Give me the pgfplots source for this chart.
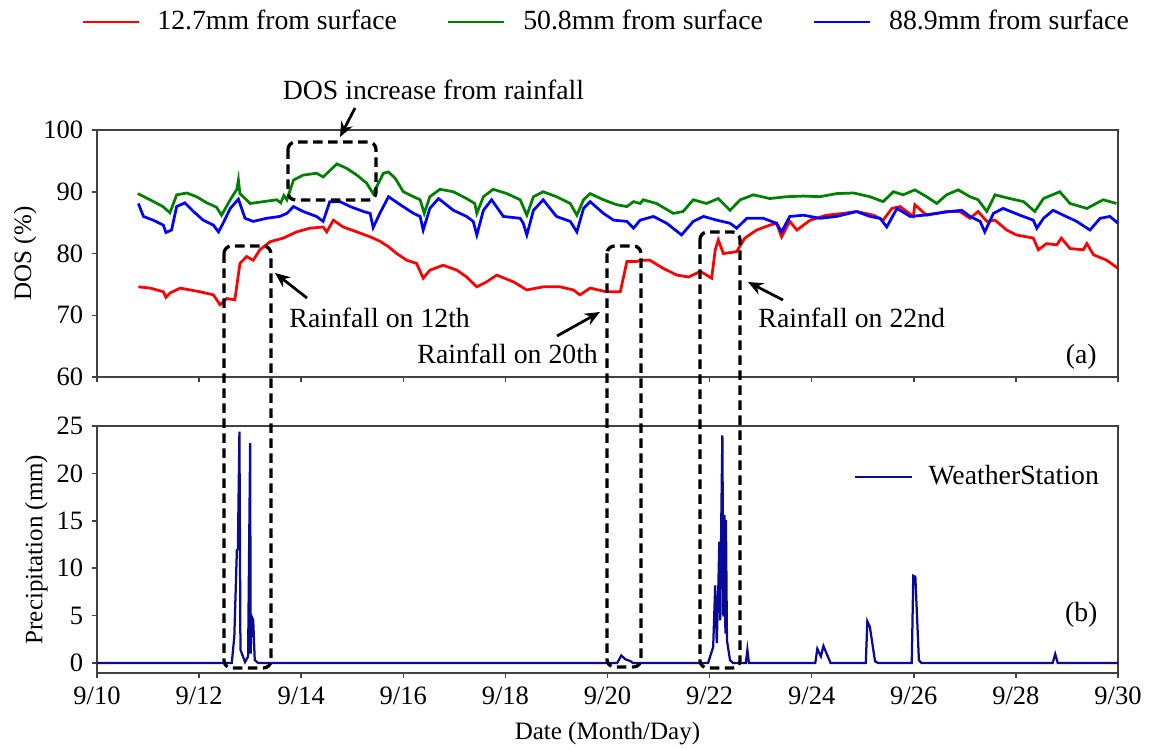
\documentclass[border=0pt]{standalone}
\usepackage{fontspec}
\setmainfont{Liberation Serif}
\usepackage{pgfplots}
\pgfplotsset{compat=1.18}
\usetikzlibrary{arrows.meta}
\definecolor{cred}{RGB}{255,0,0}
\definecolor{cgreen}{RGB}{0,128,0}
\definecolor{cblue}{RGB}{0,0,255}
\definecolor{cnavy}{RGB}{10,10,150}
\newcommand{\fs}{\fontsize{10.6}{12.6}\selectfont}
\newcommand{\fa}{\fontsize{11.1}{13.3}\selectfont}
\newcommand{\fg}{\fontsize{11.1}{13.3}\selectfont}
\newcommand{\fl}{\fontsize{11.6}{13.9}\selectfont}
\pgfplotsset{
 myax/.style={scale only axis, width=408.4pt, height=98.8pt, xmin=0, xmax=20,
   xtick={0,2,...,20}, tick pos=left, tick align=outside, major tick length=2pt,
   axis line style={black!75, line width=0.6pt},
   every tick/.style={black!75, line width=0.6pt},
   tick label style={font=\fs}, label style={font=\fl},
   /pgf/number format/assume math mode=true},
}
\pgfplotstableread{
t v
0.80 89.7
1.04 88.7
1.29 87.6
1.43 86.6
1.56 89.5
1.76 89.8
1.95 89.2
2.15 88.2
2.34 87.5
2.44 86.2
2.61 88.7
2.74 90.4
2.77 91.9
2.80 89.7
3.00 88.1
3.26 88.4
3.52 88.7
3.60 88.2
3.66 89.4
3.72 88.7
3.85 91.9
4.04 92.7
4.30 93.0
4.43 92.4
4.70 94.5
4.89 93.8
5.09 92.7
5.28 91.4
5.41 89.7
5.61 93.0
5.71 93.2
5.84 92.2
6.00 90.0
6.20 89.2
6.33 88.7
6.41 86.5
6.52 89.2
6.72 90.4
6.98 90.0
7.24 88.9
7.40 88.1
7.44 86.5
7.57 89.2
7.76 90.4
8.03 89.7
8.29 88.7
8.42 86.2
8.55 89.2
8.74 90.0
9.00 89.2
9.27 88.1
9.40 86.2
9.53 88.7
9.66 89.7
9.92 88.7
10.18 87.9
10.38 87.6
10.51 88.4
10.64 88.1
10.70 88.7
10.96 88.1
11.29 86.5
11.48 86.8
11.68 88.7
11.94 88.1
12.17 88.9
12.40 87.0
12.60 88.7
12.86 89.5
13.18 88.9
13.51 89.2
13.84 89.3
14.16 89.2
14.49 89.7
14.82 89.8
15.14 89.2
15.40 88.4
15.60 90.0
15.79 89.5
16.02 90.3
16.25 89.2
16.45 88.1
16.64 89.5
16.87 90.3
17.10 89.2
17.26 88.7
17.43 86.8
17.59 89.5
17.88 88.9
18.15 88.4
18.37 86.8
18.54 88.9
18.86 90.0
19.06 88.1
19.39 87.3
19.71 88.7
19.97 88.1
}\green
\pgfplotstableread{
t v
0.81 88.1
0.91 86.0
1.10 85.4
1.30 84.6
1.35 83.4
1.46 83.8
1.56 87.6
1.72 88.2
1.89 86.8
2.08 85.4
2.28 84.6
2.38 83.5
2.47 84.9
2.61 87.3
2.77 88.8
2.90 85.7
3.06 85.2
3.32 85.7
3.58 86.0
3.72 86.5
3.85 87.6
4.04 86.8
4.30 86.0
4.43 85.2
4.56 88.4
4.76 88.4
4.96 87.6
5.22 86.8
5.35 86.5
5.41 84.2
5.54 86.5
5.71 89.2
5.94 87.9
6.20 86.5
6.33 86.0
6.39 83.8
6.52 87.3
6.69 88.9
6.98 87.0
7.24 86.0
7.37 85.2
7.44 83.0
7.57 87.0
7.73 88.7
7.96 86.0
8.29 85.7
8.35 84.9
8.42 83.0
8.55 87.0
8.74 88.7
9.00 86.0
9.27 85.2
9.40 83.5
9.53 87.3
9.66 88.4
9.92 86.5
10.12 85.4
10.38 85.2
10.51 84.1
10.64 85.4
10.90 86.0
11.16 84.9
11.45 83.0
11.68 85.2
11.88 86.0
12.14 85.4
12.40 84.9
12.53 84.1
12.73 85.7
13.05 85.7
13.31 84.9
13.41 83.5
13.57 86.0
13.84 86.2
14.16 85.7
14.49 86.0
14.88 86.8
15.14 86.0
15.34 85.7
15.47 84.3
15.67 87.3
15.93 86.0
16.19 86.2
16.45 86.5
16.71 86.8
16.94 87.0
17.10 86.0
17.30 85.2
17.39 83.5
17.56 86.5
17.75 87.3
18.08 86.2
18.34 85.4
18.41 84.1
18.54 85.7
18.73 87.0
18.93 86.2
19.19 85.2
19.45 83.8
19.65 85.7
19.84 86.0
20.00 84.9
}\blue
\pgfplotstableread{
t v
0.81 74.6
1.04 74.4
1.30 73.8
1.35 72.9
1.43 73.6
1.63 74.4
1.82 74.1
2.02 73.8
2.28 73.3
2.41 71.7
2.54 72.7
2.70 72.5
2.80 78.4
2.93 79.5
3.06 78.9
3.19 80.6
3.39 81.9
3.65 82.5
3.91 83.5
4.17 84.1
4.43 84.3
4.50 83.5
4.63 85.4
4.82 84.3
5.09 83.5
5.35 82.7
5.54 82.0
5.71 81.1
5.87 80.0
6.07 78.9
6.26 78.4
6.39 76.0
6.52 77.3
6.78 78.1
7.05 77.3
7.24 76.2
7.44 74.6
7.63 75.4
7.83 76.5
8.16 75.4
8.42 74.1
8.74 74.6
9.07 74.6
9.33 74.1
9.46 73.3
9.66 74.4
9.98 73.8
10.25 73.8
10.38 78.7
10.57 78.7
10.64 78.9
10.83 78.9
11.09 77.6
11.36 76.5
11.59 76.2
11.82 77.1
12.04 76.0
12.11 80.6
12.17 82.2
12.27 80.0
12.53 80.3
12.69 82.5
12.92 83.8
13.18 84.6
13.31 84.9
13.41 82.7
13.57 85.2
13.71 83.8
13.97 85.4
14.29 86.2
14.62 86.5
14.88 86.8
15.21 86.2
15.40 85.4
15.57 87.3
15.73 87.6
15.99 86.0
16.02 87.9
16.25 86.2
16.64 86.8
16.90 86.8
17.10 85.7
17.26 86.8
17.43 85.2
17.59 85.4
17.82 83.8
18.01 83.0
18.34 82.5
18.44 80.6
18.60 81.6
18.80 81.4
18.89 82.5
19.06 80.8
19.32 80.6
19.39 81.6
19.52 79.8
19.78 78.9
20.00 77.6
}\red
\pgfplotstableread{
t v
0 0
2.64 0
2.69 2.8
2.74 11.9
2.76 12.0
2.79 24.4
2.81 1.4
2.90 0.1
2.96 0.7
3.00 23.2
3.01 1.0
3.03 4.9
3.06 4.5
3.09 0.3
3.16 0
10.19 0
10.27 0.8
10.35 0.4
10.45 0.2
10.50 0
11.97 0
12.07 1.7
12.11 8.2
12.14 2.1
12.17 7.7
12.19 12.8
12.21 4.5
12.23 15.6
12.25 24.0
12.27 4.9
12.29 15.6
12.31 3.1
12.32 15.1
12.34 2.4
12.40 0.3
12.46 0
12.71 0
12.74 1.4
12.77 0
14.07 0
14.11 1.5
14.18 0.7
14.23 1.8
14.37 0
15.06 0
15.09 4.4
15.14 3.8
15.24 0.2
15.30 0
15.96 0
15.99 9.2
16.03 9.1
16.10 0.3
16.15 0
18.72 0
18.77 0.95
18.82 0
20 0
}\precip
\begin{document}
\begin{tikzpicture}
\useasboundingbox (0,0) rectangle (460.8pt,-299.6pt);
\begin{axis}[myax, at={(38.8pt,-150.8pt)}, anchor=south west,
  ymin=60, ymax=100, ytick={60,70,...,100}, xticklabels={},
  ylabel={DOS (\%)},
  every axis y label/.style={at={(axis description cs:-0.0705,0.5)}, rotate=90, anchor=center},
  legend columns=3,
  legend style={at={(0.5,1.437)}, anchor=center, draw=none, fill=none, font=\fg,
    column sep=0pt, inner xsep=0pt},
  legend image code/.code={\draw[#1] (0pt,0pt) -- (22.4pt,0pt); \path (27.4pt,0pt);},
]
\addplot[cred, line width=1.1pt] table[x=t,y=v] {\red};
\addlegendentry{12.7mm from surface\rule{18pt}{0pt}}
\addplot[cgreen, line width=1.1pt] table[x=t,y=v] {\green};
\addlegendentry{50.8mm from surface\rule{18pt}{0pt}}
\addplot[cblue, line width=1.1pt] table[x=t,y=v] {\blue};
\addlegendentry{88.9mm from surface}
\node[font=\fa, anchor=center] at (axis description cs:0.964,0.081) {(a)};
\end{axis}
\begin{axis}[myax, at={(38.8pt,-269.2pt)}, anchor=south west,
  ymin=-1.05, ymax=25, ytick={0,5,...,25},
  xticklabels={9/10,9/12,9/14,9/16,9/18,9/20,9/22,9/24,9/26,9/28,9/30},
  xlabel={Date (Month/Day)}, ylabel={Precipitation (mm)},
  every axis y label/.style={at={(axis description cs:-0.0595,0.5)}, rotate=90, anchor=center},
  every axis x label/.style={at={(axis description cs:0.5,-0.243)}, anchor=center},
  legend style={at={(0.994,0.794)}, anchor=east, draw=none, fill=none, font=\fa,
    /tikz/every odd column/.append style={column sep=4pt}},
  legend image code/.code={\draw[#1] (0pt,0pt) -- (23pt,0pt);},
]
\addplot[cnavy, line width=0.9pt] table[x=t,y=v] {\precip};
\addlegendentry{WeatherStation}
\node[font=\fa, anchor=center] at (axis description cs:0.964,0.235) {(b)};
\end{axis}
\begin{scope}[x=0.4pt, y=-0.4pt]
\tikzset{dbox/.style={dash pattern=on 3.8pt off 2.2pt, line width=1.3pt, rounded corners=3pt}}
\draw[dbox] (288,142) rectangle (376,200);
\draw[dbox] (224,246) rectangle (271,668);
\draw[dbox] (607,246) rectangle (641,667);
\draw[dbox] (700,232) rectangle (740,668);
\tikzset{arr/.style={-{Stealth[length=6pt,width=5pt]}, line width=1.1pt}}
\draw[arr] (355,108) -- (340,137);
\draw[arr] (307,298) -- (275,273);
\draw[arr] (557,336) -- (600,312);
\draw[arr] (783,300) -- (748,282);
\node[font=\fa, anchor=base, inner sep=0pt] at (433.5,100) {DOS increase from rainfall};
\node[font=\fa, anchor=base west, inner sep=0pt] at (289,328) {Rainfall on 12th};
\node[font=\fa, anchor=base west, inner sep=0pt] at (417,364) {Rainfall on 20th};
\node[font=\fa, anchor=base west, inner sep=0pt] at (758,328) {Rainfall on 22nd};
\end{scope}
\end{tikzpicture}
\end{document}
